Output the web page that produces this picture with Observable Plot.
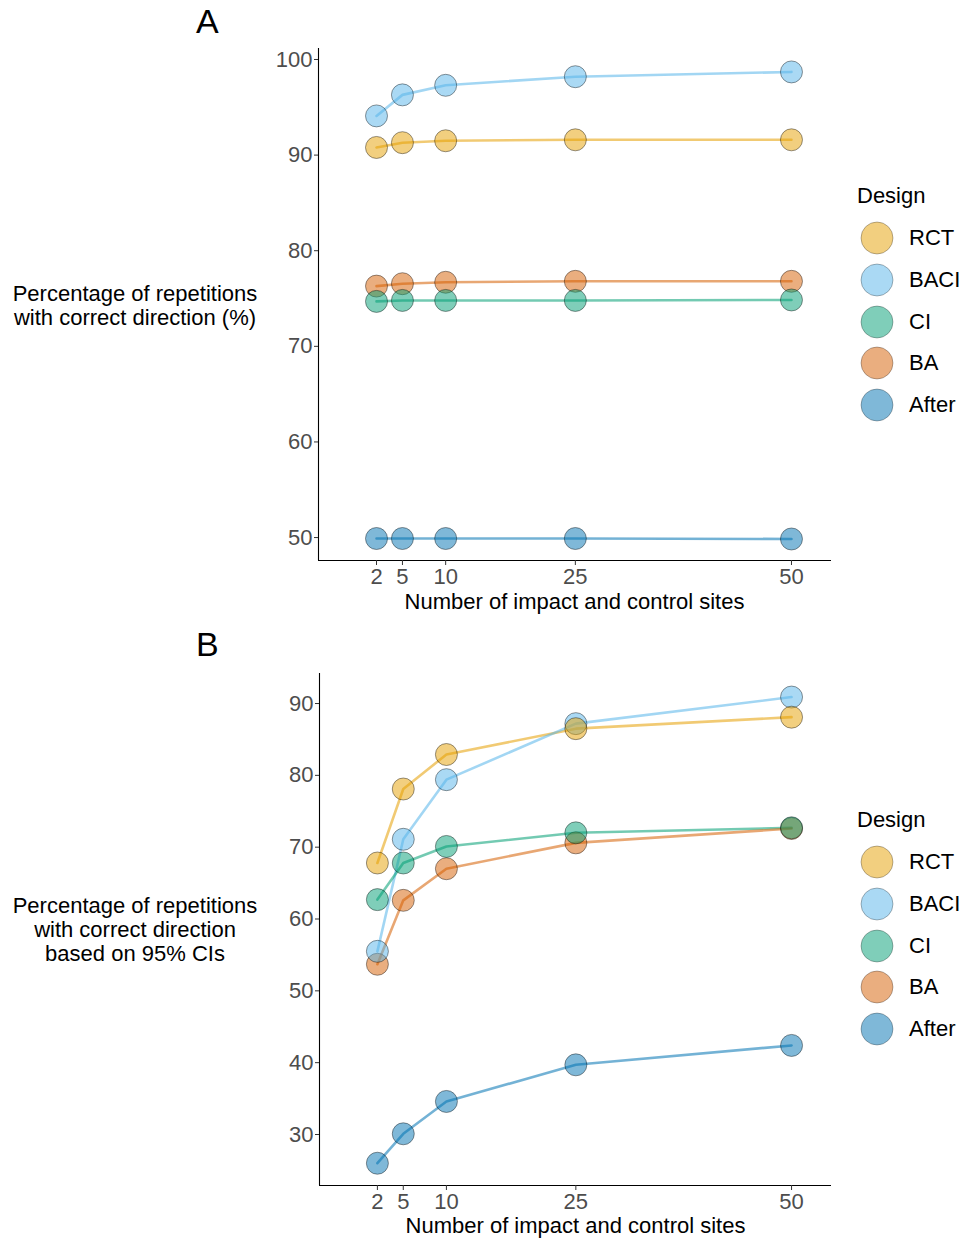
<!DOCTYPE html>
<html>
<head>
<meta charset="utf-8">
<script src="https://cdn.jsdelivr.net/npm/d3@7"></script>
<script src="https://cdn.jsdelivr.net/npm/@observablehq/plot@0.6"></script>
<style>
  html, body { margin: 0; padding: 0; background: #fff; }
  #root { position: relative; width: 964px; height: 1240px; font-family: "Liberation Sans", Arial, sans-serif; color: #000; }
  .abs { position: absolute; white-space: nowrap; }
  .panel-tag { font-size: 34px; line-height: 40px; }
  .ylab { font-size: 22px; line-height: 24px; text-align: center; width: 270px; }
  .xlab { font-size: 22px; line-height: 24px; text-align: center; width: 513px; }
  .legend-text { font-size: 22px; line-height: 24px; }
</style>
</head>
<body>
<div id="root"></div>
<script>
// Simulated study designs and their colours
const designs = ["RCT", "BACI", "CI", "BA", "After"];
const designColors = ["#E69F00", "#56B4E9", "#009E73", "#D55E00", "#0072B2"];

// Number of impact and control sites
const sites = [2, 5, 10, 25, 50];

// Panel A: percentage of repetitions with correct direction (%)
const dirRCT   = [90.8, 91.3, 91.5, 91.6, 91.6];
const dirBACI  = [94.1, 96.3, 97.3, 98.2, 98.7];
const dirCI    = [74.7, 74.8, 74.8, 74.8, 74.85];
const dirBA    = [76.3, 76.55, 76.7, 76.8, 76.8];
const dirAfter = [49.9, 49.9, 49.9, 49.9, 49.85];

// Panel B: percentage of repetitions with correct direction based on 95% CIs
const ciRCT   = [67.8, 78.1, 82.9, 86.5, 88.1];
const ciBACI  = [55.5, 71.1, 79.4, 87.2, 90.9];
const ciCI    = [62.7, 67.8, 70.1, 72.0, 72.7];
const ciBA    = [53.7, 62.6, 67.0, 70.6, 72.6];
const ciAfter = [26.0, 30.1, 34.6, 39.7, 42.4];

const yTicksA = [50, 60, 70, 80, 90, 100];
const yTicksB = [30, 40, 50, 60, 70, 80, 90];

function toRows(seriesList) {
  const rows = [];
  designs.forEach((d, i) => {
    sites.forEach((s, j) => rows.push({design: d, sites: s, value: seriesList[i][j]}));
  });
  return rows;
}

const rowsA = toRows([dirRCT, dirBACI, dirCI, dirBA, dirAfter]);
const rowsB = toRows([ciRCT, ciBACI, ciCI, ciBA, ciAfter]);

// Later designs are drawn first so RCT sits on top
const drawOrder = designs.slice().reverse();
function ordered(rows) {
  return drawOrder.flatMap(d => rows.filter(r => r.design === d));
}

function panel({rows, yDomain, yTicks, marginLeft, marginTop, marginBottom}) {
  const xDomain = [-4.71, 54.63];
  return Plot.plot({
    width: 964,
    height: 620,
    marginLeft,
    marginRight: 133,
    marginTop,
    marginBottom,
    x: {domain: xDomain},
    y: {domain: yDomain},
    color: {domain: designs, range: designColors},
    style: {fontFamily: '"Liberation Sans", Arial, sans-serif', fontSize: "22px", color: "#4d4d4d", background: "transparent", overflow: "visible"},
    marks: [
      Plot.ruleX([xDomain[0]], {stroke: "#000", strokeWidth: 1.1}),
      Plot.ruleY([yDomain[0]], {stroke: "#000", strokeWidth: 1.1}),
      Plot.axisX({ticks: sites, tickFormat: d => String(d), tickSize: 5, tickPadding: 3, fontSize: 22, label: null, stroke: "#333"}),
      Plot.axisY({ticks: yTicks, tickFormat: d => String(d), tickSize: 4, tickPadding: 2, fontSize: 22, label: null, stroke: "#333"}),
      Plot.line(rows, {x: "sites", y: "value", z: "design", stroke: "design", strokeWidth: 2.6, strokeOpacity: 0.55}),
      Plot.dot(ordered(rows), {x: "sites", y: "value", fill: "design", fillOpacity: 0.5, stroke: "#000", strokeOpacity: 0.5, strokeWidth: 0.8, r: 11})
    ]
  });
}

const root = document.getElementById("root");

function place(el, left, top) {
  el.style.position = "absolute";
  el.style.left = left + "px";
  el.style.top = top + "px";
  root.appendChild(el);
  return el;
}

function textDiv(cls, html, left, top) {
  const d = document.createElement("div");
  d.className = "abs " + cls;
  d.innerHTML = html;
  return place(d, left, top);
}

// Legend: title centred at titleY, keys spaced 41.75px below it
function legend(titleY, firstKeyY) {
  textDiv("legend-text", "Design", 857, titleY - 12);
  designs.forEach((d, i) => {
    const cy = firstKeyY + i * 41.75;
    const key = document.createElement("div");
    key.className = "abs";
    key.innerHTML = `<svg width="36" height="36" style="display:block"><circle cx="18" cy="18" r="16" fill="${designColors[i]}" fill-opacity="0.5" stroke="#000" stroke-opacity="0.35" stroke-width="0.8"/></svg>`;
    place(key, 877 - 18, cy - 18);
    textDiv("legend-text", d, 909, cy - 12);
  });
}

// Panel A
place(panel({rows: rowsA, yDomain: [47.6, 101.15], yTicks: yTicksA, marginLeft: 318, marginTop: 48, marginBottom: 60}), 0, 0);
textDiv("panel-tag", "A", 196, 1);
textDiv("ylab", "Percentage of repetitions<br>with correct direction (%)", 0, 282);
textDiv("xlab", "Number of impact and control sites", 318, 590);
legend(196, 238);

// Panel B
place(panel({rows: rowsB, yDomain: [22.9, 94.18], yTicks: yTicksB, marginLeft: 319, marginTop: 53, marginBottom: 55}), 0, 620);
textDiv("panel-tag", "B", 196, 624);
textDiv("ylab", "Percentage of repetitions<br>with correct direction<br>based on 95% CIs", 0, 894);
textDiv("xlab", "Number of impact and control sites", 319, 1214);
legend(820, 862);
</script>
</body>
</html>
